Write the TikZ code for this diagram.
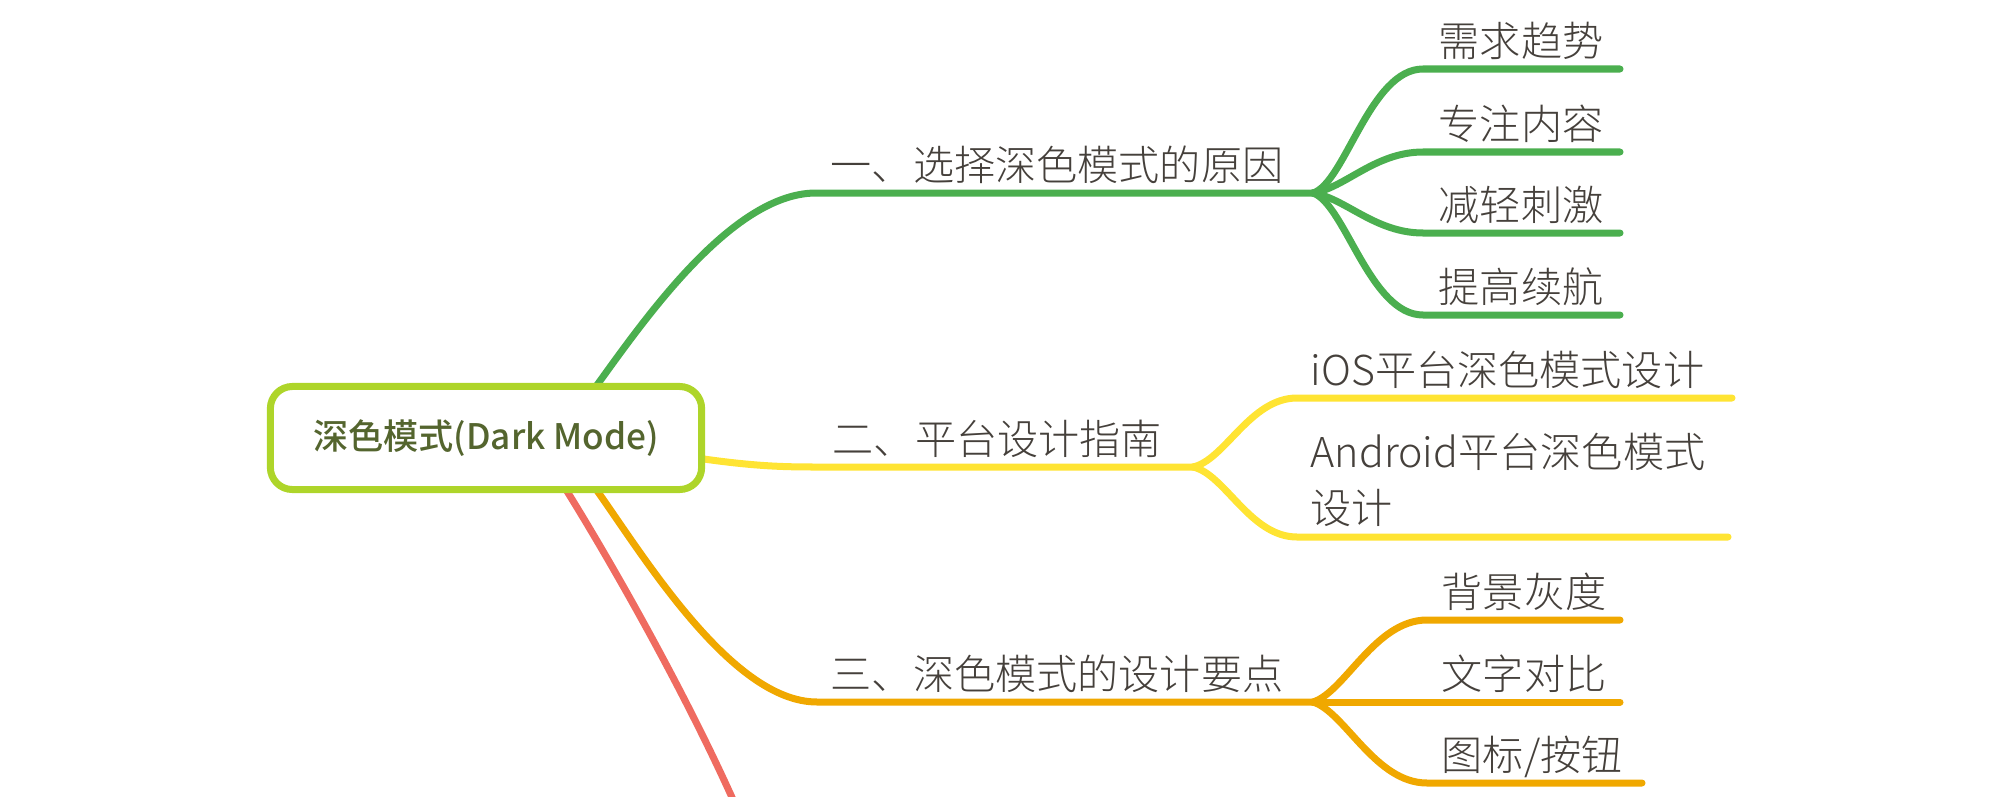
\documentclass[tikz,border=0pt]{standalone}
\usepackage{fontspec}
\IfFontExistsTF{Noto Sans CJK SC Light}
  {\newfontfamily\cjk{Noto Sans CJK SC Light}}
  {\newfontfamily\cjk{Noto Sans CJK SC}}
\IfFontExistsTF{Noto Sans CJK SC Medium}
  {\newfontfamily\cjkroot{Noto Sans CJK SC Medium}}
  {\newfontfamily\cjkroot{Noto Sans CJK SC}[FakeBold=1.2]}
\definecolor{cgreen}{HTML}{4BAF4F}
\definecolor{cyellow}{HTML}{FFE433}
\definecolor{corange}{HTML}{F0A800}
\definecolor{cred}{HTML}{EF6B60}
\definecolor{croot}{HTML}{AED52A}
\definecolor{ctext}{HTML}{45403B}
\definecolor{croottext}{HTML}{54652E}
\begin{document}
\begin{tikzpicture}[x=0.01cm,y=-0.01cm,
  branch/.style={line width=0.07cm, line cap=round},
  lbl/.style={anchor=base west, inner sep=0, text=ctext, font=\cjk\fontsize{11.7pt}{15.9pt}\selectfont},
  rootbox/.style={draw=croot, line width=0.07cm, rounded corners=0.22cm, fill=white,
    minimum width=4.31cm, minimum height=1.03cm, inner sep=0,
    text=croottext, font=\cjkroot\fontsize{10pt}{12pt}\selectfont}
]
\useasboundingbox (0,0) rectangle (2000,797);
% junction coordinates
\coordinate (g0) at (592,392);
\coordinate (g1) at (816,193);
\coordinate (gs) at (1313,193);
\coordinate (y0) at (690,457);
\coordinate (y1) at (816,467);
\coordinate (ys) at (1193,467);
\coordinate (o0) at (593,485);
\coordinate (o1) at (817,702);
\coordinate (os) at (1313,702);
\coordinate (r0) at (565,488);
\coordinate (r1) at (742,820);
% leaf line ends
\coordinate (ga1) at (1423,69);  \coordinate (ge1) at (1620,69);
\coordinate (ga2) at (1423,152); \coordinate (ge2) at (1620,152);
\coordinate (ga3) at (1423,233); \coordinate (ge3) at (1620,233);
\coordinate (ga4) at (1423,315); \coordinate (ge4) at (1620,315);
\coordinate (ya1) at (1297,398); \coordinate (ye1) at (1732,398);
\coordinate (ya2) at (1297,537); \coordinate (ye2) at (1728,537);
\coordinate (oa1) at (1427,620); \coordinate (oe1) at (1620,620);
\coordinate (oe2) at (1620,702);
\coordinate (oa3) at (1427,783); \coordinate (oe3) at (1642,783);

% green branch
\draw[branch,cgreen] (g0) .. controls (640,326) and (730,193) .. (g1) -- (gs);
\draw[branch,cgreen] (gs) .. controls (1345,183) and (1370,69) .. (ga1) -- (ge1);
\draw[branch,cgreen] (gs) .. controls (1345,188) and (1375,152) .. (ga2) -- (ge2);
\draw[branch,cgreen] (gs) .. controls (1345,198) and (1375,233) .. (ga3) -- (ge3);
\draw[branch,cgreen] (gs) .. controls (1345,204) and (1370,315) .. (ga4) -- (ge4);
% yellow branch
\draw[branch,cyellow] (y0) .. controls (750,466) and (780,467) .. (y1) -- (ys);
\draw[branch,cyellow] (ys) .. controls (1225,460) and (1250,398) .. (ya1) -- (ye1);
\draw[branch,cyellow] (ys) .. controls (1225,474) and (1250,537) .. (ya2) -- (ye2);
% orange branch
\draw[branch,corange] (o0) .. controls (640,550) and (730,702) .. (o1) -- (os);
\draw[branch,corange] (os) .. controls (1345,692) and (1375,620) .. (oa1) -- (oe1);
\draw[branch,corange] (os) -- (oe2);
\draw[branch,corange] (os) .. controls (1345,712) and (1375,783) .. (oa3) -- (oe3);
% red branch (leaves the picture)
\begin{scope}
\clip (0,0) rectangle (2000,797);
\draw[branch,cred] (r0) .. controls (610,560) and (690,700) .. (r1);
\end{scope}

% root
\node[rootbox] (root) at (486,438) {深色模式(Dark Mode)};

% main labels
\node[lbl] (l1) at (830,180) {一、选择深色模式的原因};
\node[lbl] (l2) at (832,454) {二、平台设计指南};
\node[lbl] (l3) at (830,689) {三、深色模式的设计要点};
% leaves
\node[lbl] (s1) at (1438,57) {需求趋势};
\node[lbl] (s2) at (1438,139) {专注内容};
\node[lbl] (s3) at (1438,220) {减轻刺激};
\node[lbl] (s4) at (1438,302) {提高续航};
\node[lbl] (t1) at (1310,385) {iOS平台深色模式设计};
\node[lbl] (t2a) at (1310,467) {Android平台深色模式};
\node[lbl] (t2b) at (1310,523) {设计};
\node[lbl] (u1) at (1441,607) {背景灰度};
\node[lbl] (u2) at (1441,689) {文字对比};
\node[lbl] (u3) at (1441,770) {图标/按钮};
\end{tikzpicture}
\end{document}
